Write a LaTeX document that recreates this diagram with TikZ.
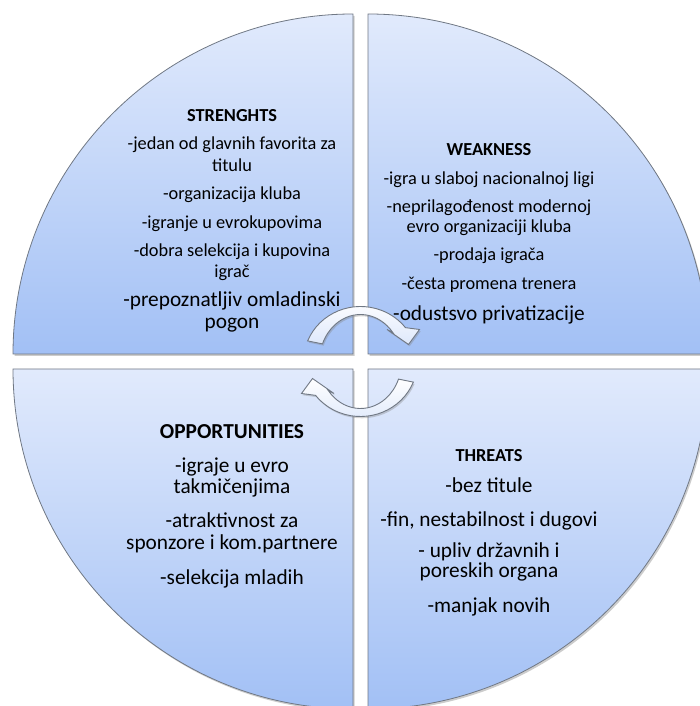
\documentclass[tikz,border=0pt]{standalone}
\usepackage{fontspec}
\setmainfont{Carlito}
\usetikzlibrary{shadows}

\definecolor{quadtop}{RGB}{225,234,252}
\definecolor{quadbottom}{RGB}{162,192,245}
\definecolor{quadline}{RGB}{112,120,132}
\definecolor{arrowfill}{RGB}{222,232,251}

\begin{document}
\begin{tikzpicture}[
    x=1bp, y=1bp,
    quad/.style={top color=quadtop, bottom color=quadbottom, draw=quadline, line width=0.8bp,
        drop shadow={shadow xshift=1.5bp, shadow yshift=-2bp, opacity=0.4}},
    cyclearrow/.style={top color=white, bottom color=arrowfill, draw=quadline, line width=0.9bp,
        drop shadow={shadow xshift=1.2bp, shadow yshift=-1.8bp, opacity=0.35}},
    smallhead/.style={anchor=base, font=\fontsize{18.4}{20}\selectfont\bfseries},
    bighead/.style={anchor=base, font=\fontsize{21.4}{23.5}\selectfont\bfseries},
    smalltxt/.style={anchor=base, font=\fontsize{18.4}{20}\selectfont},
    bigtxt/.style={anchor=base, font=\fontsize{21.4}{23.5}\selectfont}
]
\useasboundingbox (0,0) rectangle (700,706);

% ========== cetiri kvadranta ==========
\shade[quad] (353,352) -- (13,352) arc[start angle=180, end angle=90, radius=340] -- cycle;
\shade[quad] (368,352) -- (368,692) arc[start angle=90, end angle=0, radius=340] -- cycle;
\shade[quad] (353,337) -- (353,-3) arc[start angle=270, end angle=180, radius=340] -- cycle;
\shade[quad] (368,337) -- (708,337) arc[start angle=0, end angle=-90, radius=340] -- cycle;

% ========== STRENGHTS ==========
\node[smallhead] (str) at (232,584) {STRENGHTS};
\foreach \y/\txt [count=\i] in {556/{-jedan od glavnih favorita za}, 534/titulu,
    506/{-organizacija kluba}, 477/{-igranje u evrokupovima},
    449/{-dobra selekcija i kupovina}, 428/igrač} {
    \node[smalltxt] (str\i) at (232,\y) {\txt};
}
\node[bigtxt] (str7) at (232,399) {-prepoznatljiv omladinski};
\node[bigtxt] (str8) at (232,377) {pogon};

% ========== WEAKNESS ==========
\node[smallhead] (weak) at (489,550) {WEAKNESS};
\foreach \y/\txt [count=\i] in {521/{-igra u slaboj nacionalnoj ligi},
    493/{-neprilagođenost modernoj}, 473/{evro organizaciji kluba},
    445/{-prodaja igrača}, 416/{-česta promena trenera}} {
    \node[smalltxt] (weak\i) at (489,\y) {\txt};
}
\node[bigtxt] (weak6) at (489,385) {-odustsvo privatizacije};

% ========== OPPORTUNITIES ==========
\node[bighead] (opp) at (232,267) {OPPORTUNITIES};
\foreach \y/\txt [count=\i] in {233/{-igraje u evro}, 212/takmičenjima,
    178/{-atraktivnost za}, 156/{sponzore i kom.partnere}, 121/{-selekcija mladih}} {
    \node[bigtxt] (opp\i) at (232,\y) {\txt};
}

% ========== THREATS ==========
\node[smallhead] (thr) at (489,244) {THREATS};
\foreach \y/\txt [count=\i] in {213/{-bez titule}, 179/{-fin, nestabilnost i dugovi},
    148/{- upliv državnih i}, 128/{poreskih organa}, 93/{-manjak novih}} {
    \node[bigtxt] (thr\i) at (489,\y) {\txt};
}

% ========== kruzne strelice u sredini ==========
\foreach \rot in {0,180} {
    \begin{scope}[shift={(360.5,344.5)}, rotate=\rot]
        \path[cyclearrow] (158:57 and 55) arc[start angle=158, end angle=38, x radius=57, y radius=55]
            -- (59,32) -- (48,17) -- (26.5,32)
            -- (38:41 and 47) arc[start angle=38, end angle=158, x radius=41, y radius=47] -- cycle;
    \end{scope}
}

\end{tikzpicture}
\end{document}
